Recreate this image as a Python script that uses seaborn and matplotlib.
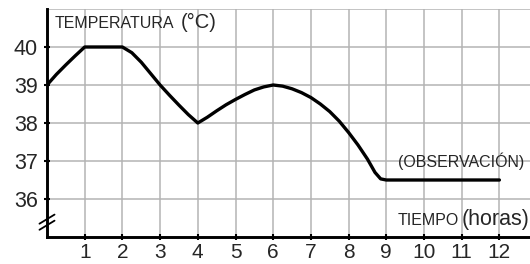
import matplotlib
matplotlib.use("Agg")
import matplotlib.pyplot as plt
import seaborn as sns
import pandas as pd

# hours and temperature
hours = [0, 0.25, 0.5, 0.75, 1, 2, 2.25, 2.5, 2.75, 3, 3.25, 3.5, 3.75, 4,
         4.25, 4.5, 4.75, 5, 5.25, 5.5, 5.75, 6, 6.25, 6.5, 6.75, 7, 7.25,
         7.5, 7.75, 8, 8.25, 8.5, 8.7, 8.85, 9, 12]
temps = [39, 39.28, 39.53, 39.77, 40, 40, 39.85, 39.6, 39.3, 39.0, 38.73,
         38.47, 38.22, 38.0, 38.15, 38.32, 38.48, 38.62, 38.75, 38.87, 38.95,
         39.0, 38.97, 38.9, 38.8, 38.67, 38.5, 38.3, 38.05, 37.75, 37.42,
         37.05, 36.7, 36.53, 36.5, 36.5]
x_ticks = list(range(1, 13))
y_ticks = [36, 37, 38, 39, 40]

df = pd.DataFrame({"hora": hours, "temp": temps})

sns.set_style("whitegrid")
plt.rcParams["font.family"] = ["Liberation Sans", "DejaVu Sans"]

fig = plt.figure(figsize=(5.3, 2.64), dpi=100)
ax = fig.add_axes([47 / 530, 1 - 237 / 264, 1 - 47 / 530, 228 / 264])

sns.lineplot(data=df, x="hora", y="temp", color="black", linewidth=2.4,
             ax=ax, zorder=3)

ax.set_xlim(0, 483 / 37.7)
ax.set_ylim(35, 41)
ax.set_xticks(x_ticks)
ax.set_yticks(y_ticks)
ax.set_xticklabels([str(v) for v in x_ticks], fontsize=15)
ax.set_yticklabels([str(v) for v in y_ticks], fontsize=15.5)
ax.set_xlabel("")
ax.set_ylabel("")

ax.grid(True, color="#b4b4b4", linewidth=1.1)
ax.axhline(41, color="#b4b4b4", linewidth=1.1, zorder=1)
for s in ["top", "right"]:
    ax.spines[s].set_visible(False)
for s in ["left", "bottom"]:
    ax.spines[s].set_color("black")
    ax.spines[s].set_linewidth(2.1)
    ax.spines[s].set_zorder(4)
ax.tick_params(axis="both", direction="inout", length=5, width=1.5,
               color="black", left=True, bottom=True)
ax.tick_params(axis="x", pad=1.5)
ax.tick_params(axis="y", pad=4)

# axis break mark on the y axis
for yc in (35.47, 35.31):
    ax.plot([-0.2, 0.2], [yc - 0.12, yc + 0.12], color="black",
            linewidth=1.3, clip_on=False, zorder=5)

ax.text(0.21, 40.5, "TEMPERATURA", fontsize=11.5, va="baseline")
ax.text(3.55, 40.5, "(°C)", fontsize=14.5, va="baseline")
ax.text(9.31, 36.84, "(OBSERVACIÓN)", fontsize=11.5, va="baseline")
ax.text(9.31, 35.32, "TIEMPO", fontsize=11.5, va="baseline")
ax.text(11.0, 35.32, "(horas)", fontsize=15.5, va="baseline", clip_on=False)

fig.savefig("out.png", dpi=100)
